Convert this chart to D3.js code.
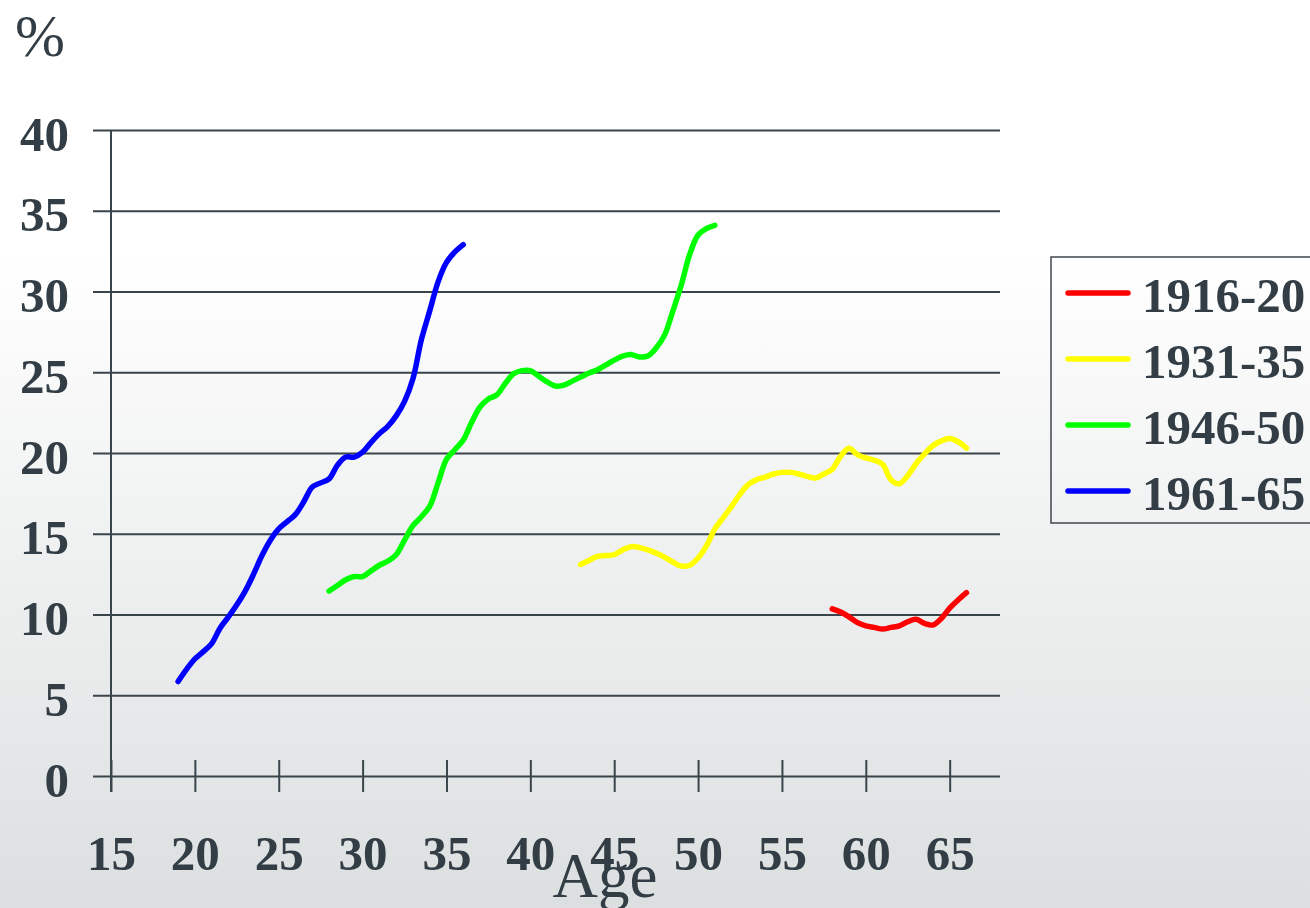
<!DOCTYPE html>
<html>
<head>
<meta charset="utf-8">
<script src="https://cdn.jsdelivr.net/npm/d3@7"></script>
<style>
html,body{margin:0;padding:0;overflow:hidden;}
svg{display:block;}
</style>
</head>
<body>
<svg id="chart" width="1310" height="908"></svg>
<script>
// ---- data ----
const seriesNames = ["1916-20", "1931-35", "1946-50", "1961-65"];
const seriesColors = ["#ff0000", "#ffff00", "#00ff00", "#0000ff"];

const agesRed = [58,58.5,59,59.5,60,60.5,61,61.5,62,62.5,63,63.5,64,64.5,65,65.5,66];
const valuesRed = [10.35,10.15,9.85,9.5,9.3,9.2,9.1,9.2,9.3,9.55,9.7,9.45,9.35,9.75,10.4,10.9,11.35];

const agesYellow = [43,43.5,44,44.5,45,45.5,46,46.5,47,47.5,48,48.5,49,49.5,50,50.5,51,51.5,52,52.5,53,53.5,54,54.5,55,55.5,56,56.5,57,57.5,58,58.5,59,59.5,60,60.5,61,61.5,62,62.5,63,63.5,64,64.5,65,65.5,66];
const valuesYellow = [13.1,13.35,13.6,13.65,13.7,14.0,14.2,14.15,14.0,13.8,13.55,13.25,13.0,13.05,13.5,14.25,15.3,16.0,16.7,17.45,18.05,18.35,18.5,18.7,18.8,18.8,18.7,18.55,18.45,18.7,19.0,19.8,20.3,19.9,19.7,19.55,19.3,18.35,18.1,18.6,19.35,19.95,20.45,20.75,20.9,20.7,20.3];

const agesGreen = [28,28.5,29,29.5,30,30.5,31,31.5,32,32.5,33,33.5,34,34.5,35,35.5,36,36.5,37,37.5,38,38.5,39,39.5,40,40.5,41,41.5,42,42.5,43,43.5,44,44.5,45,45.5,46,46.5,47,47.5,48,48.5,49,49.5,50,50.5,51];
const valuesGreen = [11.45,11.8,12.15,12.35,12.35,12.7,13.05,13.3,13.7,14.6,15.5,16.05,16.7,18.15,19.6,20.2,20.8,21.9,22.85,23.35,23.6,24.3,24.9,25.1,25.1,24.75,24.4,24.15,24.2,24.45,24.7,24.95,25.15,25.45,25.75,26.0,26.1,25.95,26.0,26.5,27.3,28.8,30.4,32.3,33.5,33.9,34.1];

const agesBlue = [19,19.5,20,20.5,21,21.5,22,22.5,23,23.5,24,24.5,25,25.5,26,26.5,27,27.5,28,28.5,29,29.5,30,30.5,31,31.5,32,32.5,33,33.5,34,34.5,35,35.5,36];
const valuesBlue = [5.85,6.6,7.25,7.7,8.2,9.15,9.85,10.6,11.45,12.5,13.65,14.6,15.3,15.75,16.2,17.0,17.9,18.15,18.4,19.25,19.75,19.75,20.05,20.65,21.2,21.65,22.3,23.2,24.6,27.0,28.8,30.6,31.8,32.45,32.9];

const xTicks = [15,20,25,30,35,40,45,50,55,60,65];
const yTicks = [0,5,10,15,20,25,30,35,40];
const xTitle = "Age";
const yTitle = "%";

const seriesAges = [agesRed, agesYellow, agesGreen, agesBlue];
const seriesValues = [valuesRed, valuesYellow, valuesGreen, valuesBlue];

// ---- layout ----
(function(){
const svg = d3.select("#chart");
const W = 1310, H = 908;
const mLeft = 111, mRight = 1000, mTop = 130, mBottom = 776;
const textColor = "#323d45";
const gridColor = "#3a444b";
const serif = "'Liberation Serif','Times New Roman',serif";
const fs = 49;

const defs = svg.append("defs");
const grad = defs.append("linearGradient").attr("id","bg")
  .attr("gradientUnits","userSpaceOnUse")
  .attr("x1",0).attr("y1",0).attr("x2",0).attr("y2",H);
grad.append("stop").attr("offset","0%").attr("stop-color","#ffffff");
grad.append("stop").attr("offset","28%").attr("stop-color","#ffffff");
grad.append("stop").attr("offset","100%").attr("stop-color","#dcdfe0");
svg.append("rect").attr("width",W).attr("height",H).attr("fill","url(#bg)");

const x = d3.scaleLinear().domain([15,68]).range([mLeft,mRight]);
const y = d3.scaleLinear().domain([0,40]).range([mBottom,mTop]);

// y gridlines / axis
const gy = svg.append("g").attr("transform",`translate(${mLeft},0)`)
  .call(d3.axisLeft(y).tickValues(yTicks).tickSize(0).tickPadding(0));
gy.select(".domain").remove();
gy.selectAll(".tick line").attr("x1",-18).attr("x2",mRight-mLeft)
  .attr("stroke",gridColor).attr("stroke-width",2);
gy.selectAll(".tick text").attr("x",-42).attr("dy",0).attr("y",20)
  .attr("font-family",serif).attr("font-weight","bold").attr("font-size",fs)
  .attr("fill",textColor).attr("text-anchor","end");

// x axis
const gx = svg.append("g").attr("transform",`translate(0,${mBottom})`)
  .call(d3.axisBottom(x).tickValues(xTicks).tickSize(16).tickPadding(0));
gx.select(".domain").remove();
gx.selectAll(".tick line").attr("y1",-16).attr("y2",16)
  .attr("stroke",gridColor).attr("stroke-width",2);
gx.selectAll(".tick text").attr("y",94).attr("dy",0)
  .attr("font-family",serif).attr("font-weight","bold").attr("font-size",fs)
  .attr("fill",textColor);

// y axis vertical line
svg.append("line").attr("x1",mLeft).attr("x2",mLeft).attr("y1",mTop).attr("y2",mBottom+16)
  .attr("stroke",gridColor).attr("stroke-width",2);

// series lines
const line = d3.line().x(d=>x(d[0])).y(d=>y(d[1])).curve(d3.curveCatmullRom.alpha(0.5));
seriesNames.forEach((name,i)=>{
  const pts = seriesAges[i].map((a,j)=>[a, seriesValues[i][j]]);
  svg.append("path").datum(pts).attr("d",line)
    .attr("fill","none").attr("stroke",seriesColors[i]).attr("stroke-width",5.5)
    .attr("stroke-linecap","round").attr("stroke-linejoin","round");
});

// titles
svg.append("text").attr("x",15).attr("y",56).text(yTitle)
  .attr("font-family",serif).attr("font-size",60).attr("fill",textColor);
svg.append("text").attr("x",605).attr("y",897).attr("text-anchor","middle").text(xTitle)
  .attr("font-family",serif).attr("font-size",63).attr("fill",textColor);

// legend
const lg = svg.append("g");
lg.append("rect").attr("x",1051).attr("y",257).attr("width",300).attr("height",266)
  .attr("fill","url(#bg)").attr("stroke","#3f474d").attr("stroke-width",1.5);
seriesNames.forEach((name,i)=>{
  const ly = 293 + i*66;
  lg.append("line").attr("x1",1068).attr("x2",1128).attr("y1",ly).attr("y2",ly)
    .attr("stroke",seriesColors[i]).attr("stroke-width",5.5).attr("stroke-linecap","round");
  lg.append("text").attr("x",1142).attr("y",ly+19).text(name)
    .attr("font-family",serif).attr("font-weight","bold").attr("font-size",fs).attr("fill",textColor);
});
})();
</script>
</body>
</html>
